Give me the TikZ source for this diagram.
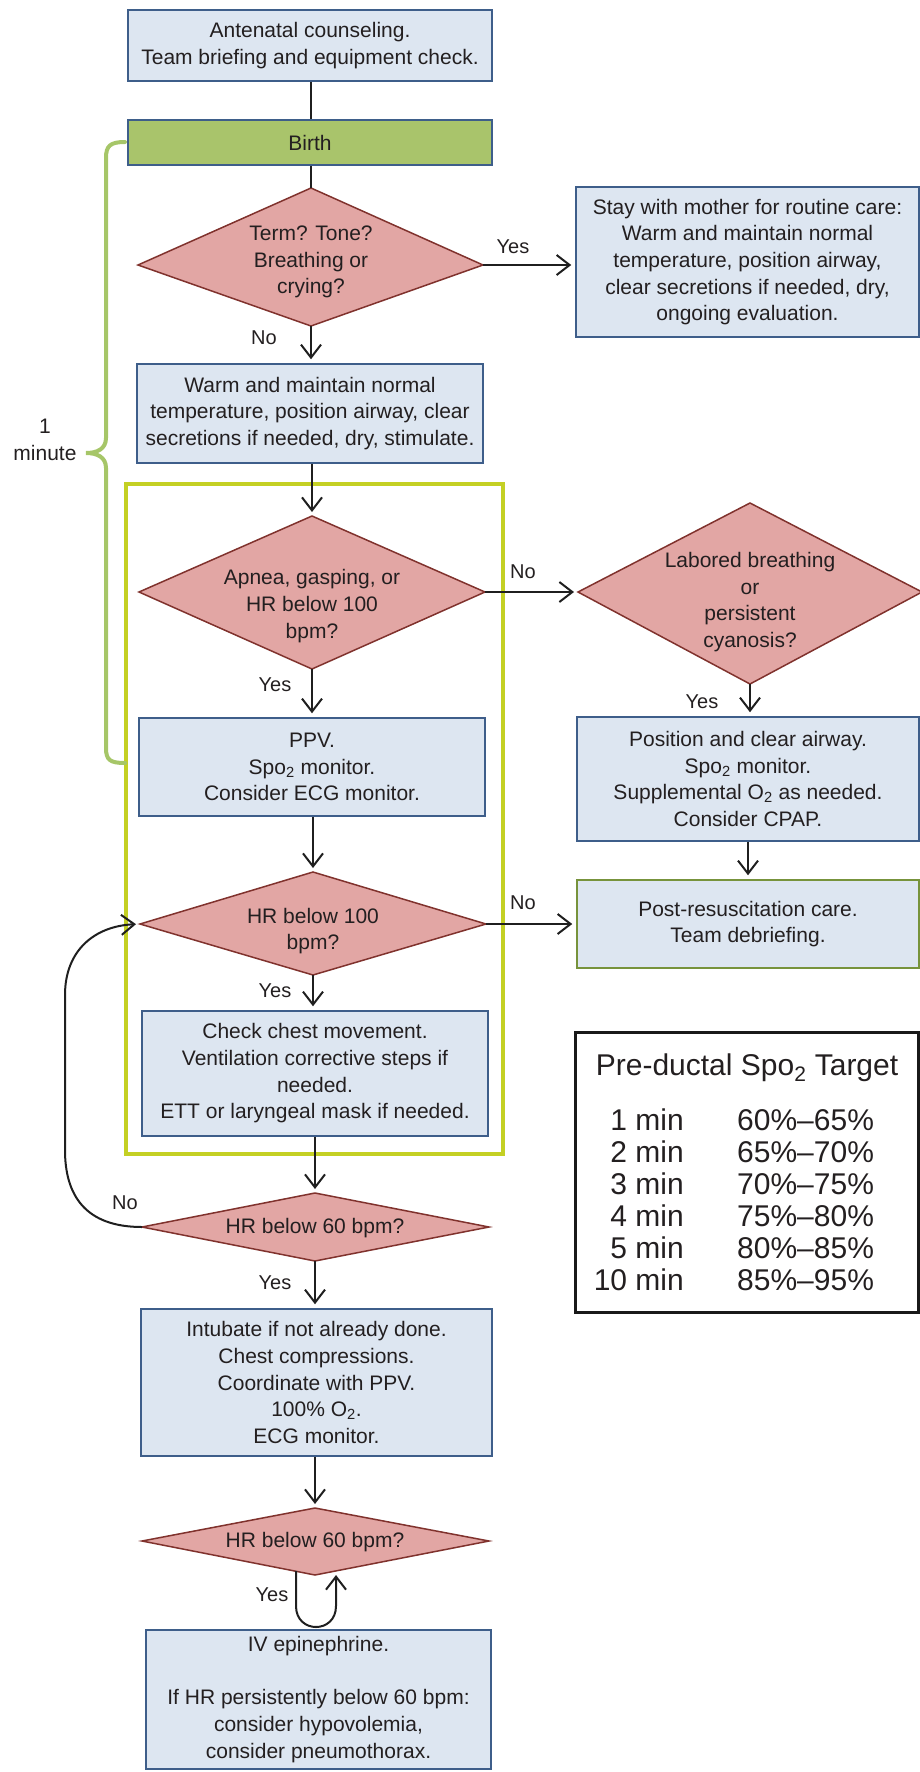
\documentclass[tikz,border=0pt]{standalone}
\usepackage{fontspec}
\setmainfont{Liberation Sans}
\usetikzlibrary{arrows.meta}
\definecolor{boxfill}{RGB}{221,230,241}
\definecolor{boxborder}{RGB}{62,94,138}
\definecolor{birthfill}{RGB}{169,196,107}
\definecolor{decfill}{RGB}{226,166,164}
\definecolor{decborder}{RGB}{128,50,45}
\definecolor{framecol}{RGB}{196,208,36}
\definecolor{bracecol}{RGB}{166,198,104}
\definecolor{postborder}{RGB}{119,147,60}
\definecolor{txtcol}{RGB}{35,31,32}
\begin{document}
\begin{tikzpicture}[x=1pt,y=-1pt,
 every node/.style={text=txtcol},
 box/.style={draw=boxborder, fill=boxfill, line width=1.5pt, rectangle, align=center, inner sep=2pt, font=\fontsize{21}{26.7}\selectfont},
 dec/.style={draw=decborder, fill=decfill, line width=1.5pt},
 dtxt/.style={align=center, inner sep=0pt, font=\fontsize{21}{26.7}\selectfont},
 lbl/.style={font=\fontsize{20}{24}\selectfont, inner sep=0pt},
 conn/.style={draw=black!88, line width=2pt},
 arr/.style={conn, -{Straight Barb[length=13pt,width=20pt]}, shorten >=4pt},
 tbl/.style={font=\fontsize{30}{32}\selectfont, inner sep=0pt},
]
\useasboundingbox (0,0) rectangle (920,1772);

% frame
\node[draw=framecol, line width=4pt, minimum width=377pt, minimum height=670pt, inner sep=0pt] (frame) at (314.5,819) {};

% boxes
\node[box, minimum width=364pt, minimum height=71pt] (ante) at (310,45.5) {Antenatal counseling.\\Team briefing and equipment check.};
\node[box, fill=birthfill, minimum width=364pt, minimum height=45pt] (birth) at (310,142.5) {Birth};
\node[box, minimum width=346pt, minimum height=99pt] (warm) at (310,413.5) {Warm and maintain normal\\temperature, position airway, clear\\secretions if needed, dry, stimulate.};
\node[box, minimum width=343pt, minimum height=150pt] (stay) at (747.5,262) {Stay with mother for routine care:\\Warm and maintain normal\\temperature, position airway,\\clear secretions if needed, dry,\\ongoing evaluation.};
\node[box, minimum width=346pt, minimum height=98pt] (ppv) at (312,767) {PPV.\\Spo\textsubscript{2} monitor.\\Consider ECG monitor.};
\node[box, minimum width=342pt, minimum height=124pt] (pos) at (748,779) {Position and clear airway.\\Spo\textsubscript{2} monitor.\\Supplemental O\textsubscript{2} as needed.\\Consider CPAP.};
\node[box, draw=postborder, minimum width=342pt, minimum height=88pt] (post) at (748,924) {Post-resuscitation care.\\Team debriefing.};
\node[box, minimum width=346pt, minimum height=125pt] (check) at (315,1073.5) {Check chest movement.\\Ventilation corrective steps if\\needed.\\ETT or laryngeal mask if needed.};
\node[box, minimum width=351pt, minimum height=147pt] (intub) at (316.5,1382.5) {Intubate if not already done.\\Chest compressions.\\Coordinate with PPV.\\100\% O\textsubscript{2}.\\ECG monitor.};
\node[box, minimum width=345pt, minimum height=139pt] (iv) at (318.5,1699.5) {IV epinephrine.\\[26.7pt]If HR persistently below 60 bpm:\\consider hypovolemia,\\consider pneumothorax.};

% decisions
\path[dec] (138,265) coordinate (d1l) -- (311,188) coordinate (d1t) -- (483,265) coordinate (d1r) -- (311,326) coordinate (d1b) -- cycle;
\node[dtxt] (d1) at (311,262) {Term? Tone?\\Breathing or\\crying?};
\path[dec] (139,592) coordinate (d2l) -- (312,516) coordinate (d2t) -- (485,592) coordinate (d2r) -- (312,669) coordinate (d2b) -- cycle;
\node[dtxt] (d2) at (312,606) {Apnea, gasping, or\\HR below 100\\bpm?};
\path[dec] (578,592) coordinate (dLl) -- (750,503) coordinate (dLt) -- (922,592) coordinate (dLr) -- (750,684) coordinate (dLb) -- cycle;
\node[dtxt] (dL) at (750,602) {Labored breathing\\or\\persistent\\cyanosis?};
\path[dec] (140,924) coordinate (d3l) -- (313,872) coordinate (d3t) -- (486,924) coordinate (d3r) -- (313,975) coordinate (d3b) -- cycle;
\node[dtxt] (d3) at (313,931) {HR below 100\\bpm?};
\path[dec] (142,1227) coordinate (d4l) -- (315,1193) coordinate (d4t) -- (489,1227) coordinate (d4r) -- (315,1261) coordinate (d4b) -- cycle;
\node[dtxt] (d4) at (315,1228) {HR below 60 bpm?};
\path[dec] (142,1541) coordinate (d5l) -- (315,1508) coordinate (d5t) -- (489,1541) coordinate (d5r) -- (315,1575) coordinate (d5b) -- cycle;
\node[dtxt] (d5) at (315,1542) {HR below 60 bpm?};
\coordinate (d5bl) at (296,1571);
\coordinate (d5br) at (336,1571);

% connectors
\draw[conn] (ante.south -| d1t) -- (birth.north -| d1t);
\draw[conn] (birth.south -| d1t) -- (d1t);
\draw[arr] (d1r) -- (d1r -| stay.west);
\draw[arr] (d1b) -- (d1b |- warm.north);
\draw[arr] (d2t |- warm.south) -- (d2t);
\draw[arr] (d2r) -- (dLl);
\draw[arr] (d2b) -- (d2b |- ppv.north);
\draw[arr] (dLb) -- (dLb |- pos.north);
\draw[arr] (d3t |- ppv.south) -- (d3t);
\draw[arr] (d3r) -- (d3r -| post.west);
\draw[arr] (pos.south) -- (post.north);
\draw[arr] (d3b) -- (d3b |- check.north);
\draw[arr] (d4t |- check.south) -- (d4t);
\draw[arr] (d4l) .. controls (85,1227) and (65,1195) .. (65,1150) -- (65,995) .. controls (65,950) and (95,926) .. (d3l);
\draw[arr] (d4b) -- (d4b |- intub.north);
\draw[arr] (d5t |- intub.south) -- (d5t);
\draw[arr] (d5bl) -- (296,1606) .. controls (296,1634) and (336,1634) .. (336,1606) -- (d5br);

% labels
\node[lbl] (y1) at (513,247) {Yes};
\node[lbl] (n1) at (264,338) {No};
\node[lbl] (n2) at (523,572) {No};
\node[lbl] (y2) at (275,685) {Yes};
\node[lbl] (yL) at (702,702) {Yes};
\node[lbl] (n3) at (523,903) {No};
\node[lbl] (y3) at (275,991) {Yes};
\node[lbl] (n4) at (125,1203) {No};
\node[lbl] (y4) at (275,1283) {Yes};
\node[lbl] (y5) at (272,1595) {Yes};

% brace
\draw[bracecol, line width=4pt, line cap=round] (125,142) .. controls (110,142) and (106,146) .. (106,158) -- (106,438) .. controls (106,449) and (97,453) .. (86,453) .. controls (97,453) and (106,457) .. (106,468) -- (106,748) .. controls (106,760) and (110,763) .. (125,763);
\node[align=center, font=\fontsize{21}{27}\selectfont, inner sep=0pt] (onemin) at (45,440) {1\\minute};

% target table
\node[draw=black!90, line width=3pt, minimum width=343pt, minimum height=280pt, inner sep=0pt] (target) at (747,1172) {};
\node[tbl] (ttitle) at (747,1068) {Pre-ductal Spo\textsubscript{2} Target};
\foreach \t/\p [count=\i] in {1 min/60\%–65\%, 2 min/65\%–70\%, 3 min/70\%–75\%, 4 min/75\%–80\%, 5 min/80\%–85\%, 10 min/85\%–95\%}{
  \node[tbl, anchor=east] (rmin\i) at (684,{1088+32*\i}) {\t};
  \node[tbl, anchor=west] (rpct\i) at (737,{1088+32*\i}) {\p};
}
\end{tikzpicture}
\end{document}
